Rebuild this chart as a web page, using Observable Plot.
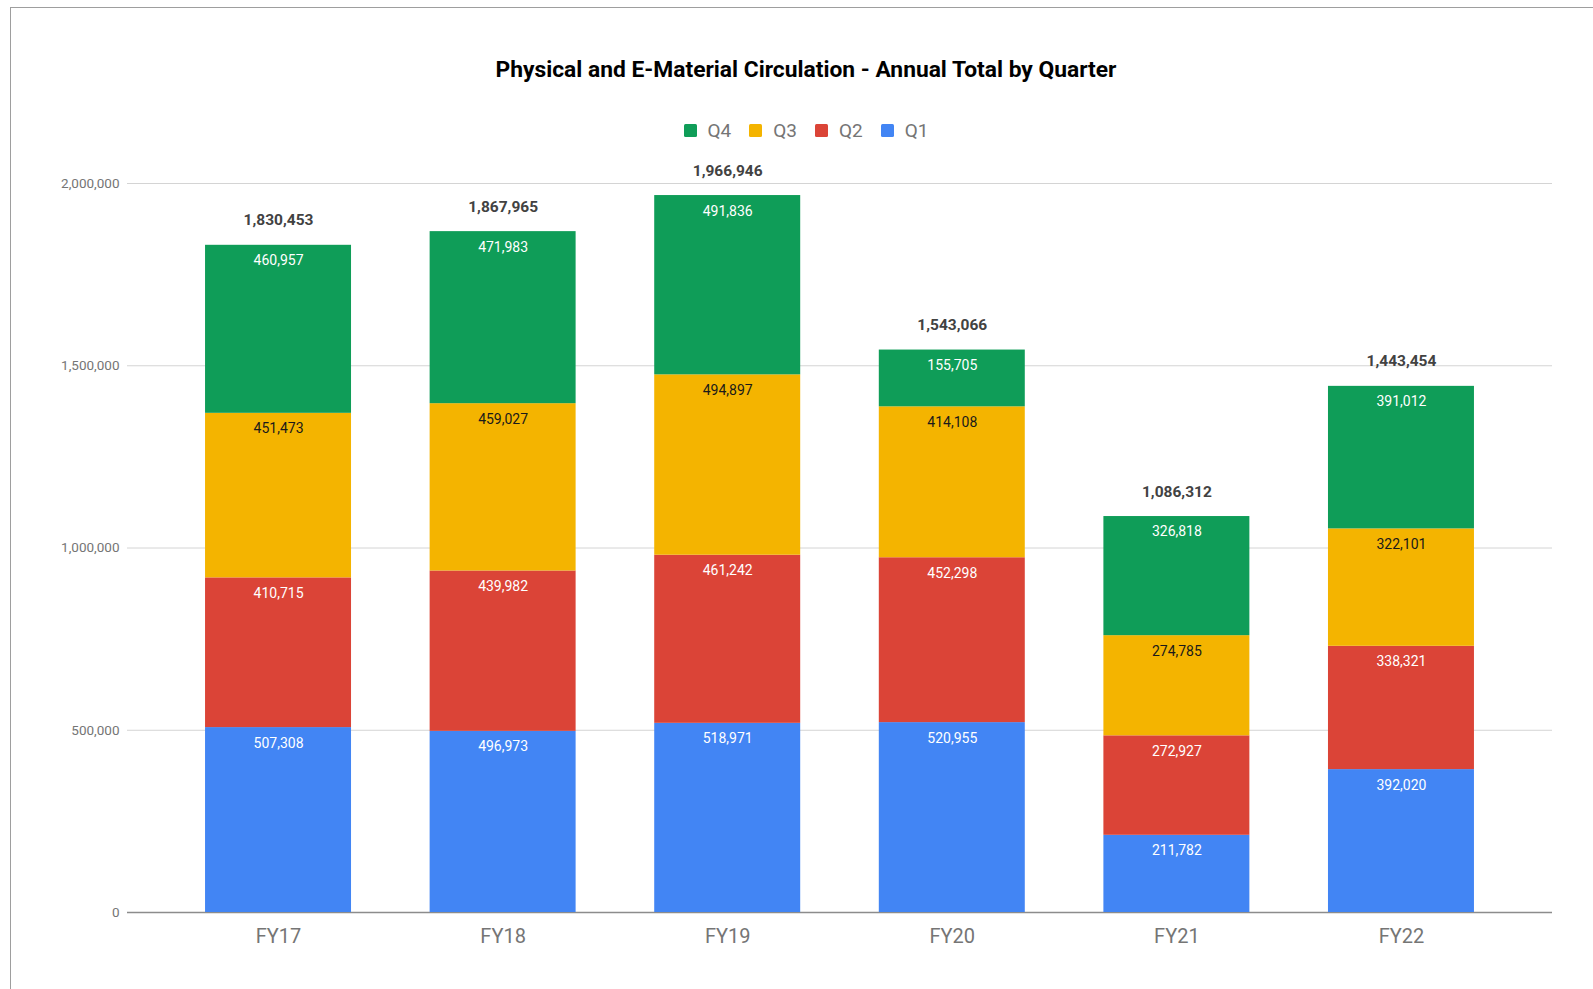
<!DOCTYPE html>
<html>
<head>
<meta charset="utf-8">
<script src="https://cdn.jsdelivr.net/npm/d3@7"></script>
<script src="https://cdn.jsdelivr.net/npm/@observablehq/plot@0.6"></script>
<style>
  html, body { margin: 0; padding: 0; background: #fff; overflow: hidden; width: 1593px; height: 989px; }
  #frame { position: absolute; left: 10px; top: 7px; width: 2000px; height: 2000px; border: 1px solid #9e9e9e; box-sizing: border-box; }
  #title { position: absolute; left: 0; width: 1612px; top: 58.5px; text-align: center; font: bold 22.8px Roboto, sans-serif; line-height: 22.8px; color: #000; white-space: nowrap; }
  #legend { position: absolute; left: 0; width: 1612px; top: 121px; height: 19px; display: flex; justify-content: center; align-items: center; gap: 18px; font: 19px Roboto, sans-serif; line-height: 19px; color: #757575; }
  .item { display: flex; align-items: center; }
  .sw { width: 13px; height: 13px; border-radius: 1.5px; margin-right: 11px; }
  #chart { position: absolute; left: 0; top: 140px; }
</style>
</head>
<body>
<div id="frame"></div>
<div id="title">Physical and E-Material Circulation - Annual Total by Quarter</div>
<div id="legend"></div>
<div id="chart"></div>
<script>
const years = ["FY17", "FY18", "FY19", "FY20", "FY21", "FY22"];
const quarters = ["Q1", "Q2", "Q3", "Q4"];
const q1 = [507308, 496973, 518971, 520955, 211782, 392020];
const q2 = [410715, 439982, 461242, 452298, 272927, 338321];
const q3 = [451473, 459027, 494897, 414108, 274785, 322101];
const q4 = [460957, 471983, 491836, 155705, 326818, 391012];
const colors = ["#4285F4", "#DB4437", "#F4B400", "#0F9D58"];
const legendOrder = ["Q4", "Q3", "Q2", "Q1"];
const yTicks = [0, 500000, 1000000, 1500000, 2000000];

const series = [q1, q2, q3, q4];
const fmt = d3.format(",");

const rows = [];
years.forEach((year, i) => {
  let cum = 0;
  series.forEach((s, j) => {
    cum += s[i];
    rows.push({year, quarter: quarters[j], value: s[i], top: cum});
  });
});
const totals = years.map((year, i) => ({year, total: d3.sum(series, s => s[i])}));

// legend
const legend = document.getElementById("legend");
legendOrder.forEach(q => {
  const it = document.createElement("div");
  it.className = "item";
  const sw = document.createElement("div");
  sw.className = "sw";
  sw.style.background = colors[quarters.indexOf(q)];
  const tx = document.createElement("span");
  tx.textContent = q;
  it.appendChild(sw);
  it.appendChild(tx);
  legend.appendChild(it);
});

const chart = Plot.plot({
  width: 1593,
  height: 849,
  marginLeft: 127,
  marginRight: 41,
  marginTop: 43,
  marginBottom: 77,
  style: {fontFamily: "Roboto, sans-serif", background: "transparent", overflow: "visible"},
  x: {domain: years, paddingInner: 0.35, paddingOuter: 0.3475, round: false, label: null},
  y: {domain: [0, 2000000], label: null},
  color: {domain: quarters, range: colors},
  marks: [
    Plot.gridY(yTicks, {stroke: "#d4d4d4", strokeOpacity: 1, strokeWidth: 1}),
    Plot.axisY(yTicks, {tickSize: 0, tickPadding: 8, tickFormat: fmt, fontSize: 13.5, color: "#757575", label: null}),
    Plot.axisX({tickSize: 0, tickPadding: 16, fontSize: 20, color: "#757575", label: null}),
    Plot.ruleY([0], {stroke: "#8c8c8c", strokeWidth: 1.5}),
    Plot.barY(rows, {x: "year", y: "value", fill: "quarter"}),
    Plot.text(rows.filter(d => d.quarter !== "Q3"), {x: "year", y: "top", text: d => fmt(d.value), fill: "#ffffff", lineAnchor: "top", dy: 10, fontSize: 14}),
    Plot.text(rows.filter(d => d.quarter === "Q3"), {x: "year", y: "top", text: d => fmt(d.value), fill: "#1a1a1a", lineAnchor: "top", dy: 10, fontSize: 14}),
    Plot.text(totals, {x: "year", y: "total", text: d => fmt(d.total), lineAnchor: "bottom", dy: -20, fontSize: 15.5, fontWeight: "bold", fill: "#424242"})
  ]
});
document.getElementById("chart").appendChild(chart);
</script>
</body>
</html>
